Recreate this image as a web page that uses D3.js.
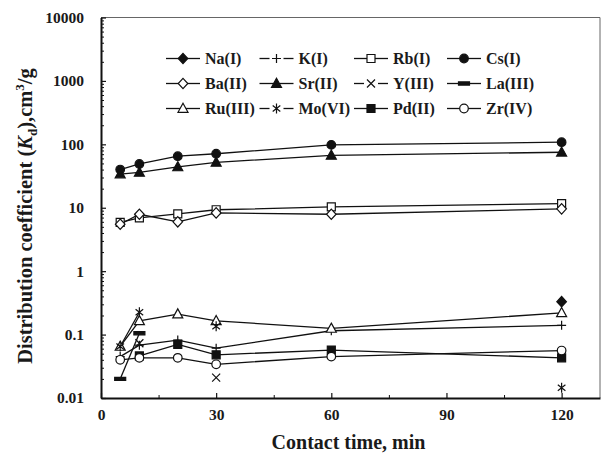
<!DOCTYPE html>
<html>
<head>
<meta charset="utf-8">
<script src="https://cdn.jsdelivr.net/npm/d3@7"></script>
<style>
body { margin: 0; background: #fff; }
text { font-family: "Liberation Serif", "Times New Roman", serif; font-weight: bold; fill: #1a1a1a; }
</style>
</head>
<body>
<svg id="chart"></svg>
<script>
// contact times (min) and Kd values (cm3/g); null = no point
var times = [5, 10, 20, 30, 60, 120];
var na = [null, null, null, null, null, 0.33];
var k = [0.045, 0.068, 0.082, 0.061, 0.115, 0.14];
var rb = [5.9, 6.9, 8.0, 9.3, 10.3, 11.6];
var cs = [40, 49, 65, 71, 98, 108];
var ba = [5.5, 7.9, 6.0, 8.3, 7.9, 9.6];
var sr = [34, 36, 44, 52, 67, 75];
var yt = [null, 0.073, null, 0.021, null, null];
var la = [0.02, 0.105, null, null, null, null];
var ru = [0.065, 0.165, 0.21, 0.165, 0.125, 0.22];
var mo = [0.065, 0.225, null, 0.135, null, 0.0145];
var pd = [null, 0.046, 0.07, 0.048, 0.057, 0.043];
var zr = [0.04, 0.043, 0.043, 0.034, 0.045, 0.056];
var xTicks = [0, 30, 60, 90, 120];
var xMinor = [15, 45, 75, 105];
var yTicks = [0.01, 0.1, 1, 10, 100, 1000, 10000];

var width = 601, height = 453;
var pl = 101, pr = 600, pt = 17.5, pb = 398;

var svg = d3.select("#chart").attr("width", width).attr("height", height);

var x = d3.scaleLinear().domain([0, 130]).range([pl, pr]);
var y = d3.scaleLog().domain([0.01, 10000]).range([pb, pt]);

// marker shapes
var shapes = {
    diamond: "M0,-5.2L4.8,0L0,5.2L-4.8,0Z",
    square: "M-4,-4H4V4H-4Z",
    triangle: "M0,-5.3L5,3.8H-5Z",
    plus: "M-4.5,0H4.5M0,-4.5V4.5",
    times: "M-4,-4L4,4M-4,4L4,-4",
    aster: "M-3.8,-3L3.8,3M-3.8,3L3.8,-3M0,-5V5",
    bar: "M-5.5,-1.6H5.5V1.6H-5.5Z"
};

var series = [
    { name: "Na(I)", v: na, shape: "diamond", fill: "#111" },
    { name: "K(I)", v: k, shape: "plus", fill: "none" },
    { name: "Rb(I)", v: rb, shape: "square", fill: "#fff" },
    { name: "Cs(I)", v: cs, shape: "circle", fill: "#111" },
    { name: "Ba(II)", v: ba, shape: "diamond", fill: "#fff" },
    { name: "Sr(II)", v: sr, shape: "triangle", fill: "#111" },
    { name: "Y(III)", v: yt, shape: "times", fill: "none" },
    { name: "La(III)", v: la, shape: "bar", fill: "#111" },
    { name: "Ru(III)", v: ru, shape: "triangle", fill: "#fff" },
    { name: "Mo(VI)", v: mo, shape: "aster", fill: "none" },
    { name: "Pd(II)", v: pd, shape: "square", fill: "#111" },
    { name: "Zr(IV)", v: zr, shape: "circle", fill: "#fff" }
];

function drawMarker(g, s, cx, cy) {
    if (s.shape === "circle") {
        g.append("circle")
            .attr("cx", cx).attr("cy", cy).attr("r", 4.3)
            .style("fill", s.fill).style("stroke", "#111").style("stroke-width", 1.2);
    } else {
        g.append("path")
            .attr("d", shapes[s.shape])
            .attr("transform", "translate(" + cx + "," + cy + ")")
            .style("fill", s.fill).style("stroke", "#111").style("stroke-width", 1.2);
    }
}

// frame top/right
svg.append("line").attr("x1", pl).attr("x2", pr).attr("y1", pt).attr("y2", pt)
    .style("stroke", "#666").style("stroke-width", 1);
svg.append("line").attr("x1", pr).attr("x2", pr).attr("y1", pt).attr("y2", pb)
    .style("stroke", "#666").style("stroke-width", 1);

// y axis
var yMinor = [];
for (var e = -2; e < 4; e++) {
    for (var m = 2; m < 10; m++) yMinor.push(m * Math.pow(10, e));
}
svg.append("g")
    .attr("transform", "translate(" + pl + ",0)")
    .call(d3.axisLeft(y).tickValues(yMinor).tickSizeInner(-3).tickSizeOuter(0).tickFormat(""))
    .call(function (g) { g.select(".domain").remove(); g.selectAll("line").style("stroke", "#111"); });
var yAxis = svg.append("g")
    .attr("transform", "translate(" + pl + ",0)")
    .call(d3.axisLeft(y).tickValues(yTicks).tickSizeInner(-5).tickSizeOuter(0).tickPadding(17)
        .tickFormat(function (d) { return d >= 1 ? d3.format("d")(d) : String(d); }));
yAxis.select(".domain").style("stroke", "#111").style("stroke-width", 2);
yAxis.selectAll("line").style("stroke", "#111").style("stroke-width", 1.2);

// x axis
svg.append("g")
    .attr("transform", "translate(0," + pb + ")")
    .call(d3.axisBottom(x).tickValues(xMinor).tickSizeInner(-3).tickSizeOuter(0).tickFormat(""))
    .call(function (g) { g.select(".domain").remove(); g.selectAll("line").style("stroke", "#111"); });
var xAxis = svg.append("g")
    .attr("transform", "translate(0," + pb + ")")
    .call(d3.axisBottom(x).tickValues(xTicks).tickSizeInner(-5).tickSizeOuter(0).tickPadding(11));
xAxis.select(".domain").style("stroke", "#111").style("stroke-width", 2);
xAxis.selectAll("line").style("stroke", "#111").style("stroke-width", 1.2);

svg.selectAll(".tick text")
    .attr("fill", null)
    .style("font-size", "15.5px")
    .style("font-family", "'Liberation Serif', 'Times New Roman', serif")
    .style("font-weight", "bold");
svg.selectAll("g").attr("font-family", null).attr("font-size", null);

// lines and markers
var line = d3.line()
    .defined(function (d) { return d[1] != null; })
    .x(function (d) { return x(d[0]); })
    .y(function (d) { return y(d[1]); });

var plot = svg.append("g");
series.forEach(function (s) {
    var pts = times.map(function (t, i) { return [t, s.v[i]]; });
    plot.append("path")
        .attr("d", line(pts))
        .style("fill", "none").style("stroke", "#111").style("stroke-width", 1.3);
});
series.forEach(function (s) {
    var g = plot.append("g");
    times.forEach(function (t, i) {
        if (s.v[i] != null) drawMarker(g, s, x(t), y(s.v[i]));
    });
});

// legend
var colX = [166, 259.5, 354, 447];
var rowY = [58.5, 83.5, 108.5];
var legend = svg.append("g");
series.forEach(function (s, i) {
    var lx = colX[i % 4], ly = rowY[Math.floor(i / 4)];
    var gap = (s.fill === "none") ? 7 : 0;
    legend.append("line")
        .attr("x1", lx).attr("x2", lx + 17 - gap).attr("y1", ly).attr("y2", ly)
        .style("stroke", "#111").style("stroke-width", 1.3);
    legend.append("line")
        .attr("x1", lx + 17 + gap).attr("x2", lx + 34).attr("y1", ly).attr("y2", ly)
        .style("stroke", "#111").style("stroke-width", 1.3);
    drawMarker(legend, s, lx + 17, ly);
    legend.append("text")
        .attr("x", lx + 39).attr("y", ly + 5.5)
        .style("font-size", "16px")
        .text(s.name);
});

// axis titles
svg.append("text")
    .attr("x", (pl + pr) / 2 - 2).attr("y", 449)
    .attr("text-anchor", "middle")
    .style("font-size", "20px")
    .text("Contact time, min");

var yt1 = svg.append("text")
    .attr("transform", "translate(32,216) rotate(-90)")
    .attr("text-anchor", "middle")
    .style("font-size", "20.5px");
yt1.append("tspan").text("Distribution coefficient (");
yt1.append("tspan").style("font-style", "italic").text("K");
yt1.append("tspan").attr("dy", 5).style("font-size", "13px").text("d");
yt1.append("tspan").attr("dy", -5).text("),cm");
yt1.append("tspan").attr("dy", -8).style("font-size", "13px").text("3");
yt1.append("tspan").attr("dy", 8).text("/g");
</script>
</body>
</html>
